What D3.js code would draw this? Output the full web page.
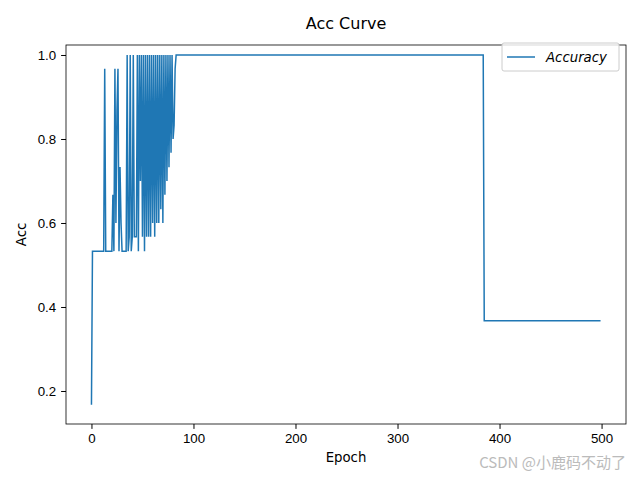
<!DOCTYPE html>
<html><head><meta charset="utf-8">
<script src="https://cdn.jsdelivr.net/npm/d3@7"></script>
<style>body{margin:0;background:#fff}</style>
</head><body><div id="chart"></div>
<script>
// first epochs, read one by one
const earlyAcc = [
  0.167, 0.533, 0.533, 0.533, 0.533, 0.533, 0.533, 0.533, 0.533, 0.533,
  0.533, 0.533, 0.533, 0.967, 0.533, 0.533, 0.533, 0.533, 0.533, 0.533,
  0.533, 0.667, 0.533, 0.967, 0.6, 0.867, 0.967, 0.533, 0.733, 0.6,
  0.533, 0.533, 0.533, 0.533, 0.533, 1.0, 0.533, 0.567, 1.0, 0.533,
  0.567, 1.0, 0.567, 0.567, 0.567, 1.0, 0.533, 1.0, 0.7, 1.0,
  0.567, 1.0, 0.533, 1.0, 0.567, 1.0, 0.567, 1.0, 0.567, 1.0,
  0.6, 1.0, 0.567, 1.0, 0.6, 1.0, 0.6, 1.0, 0.633, 1.0,
  0.6, 1.0, 0.667, 1.0, 0.7, 1.0, 0.733, 1.0, 0.767, 1.0,
  0.8, 0.833, 0.967, 1.0
];
// later epochs as [value, count] runs
const laterRuns = [[1.0, 301], [0.367, 115]];
const xTicks = [0, 100, 200, 300, 400, 500];
const yTicks = [0.2, 0.4, 0.6, 0.8, 1.0];

const acc = earlyAcc.slice();
laterRuns.forEach(([v, n]) => { for (let i = 0; i < n; i++) acc.push(v); });
const data = acc.map((v, i) => ({epoch: i, acc: v}));

const W = 640, H = 480;
const m = {left: 66, right: 14, top: 45, bottom: 56};
const svg = d3.select('#chart').append('svg').attr('width', W).attr('height', H)
  .style('font-family', 'DejaVu Sans');

const x = d3.scaleLinear().domain([-24.95, 523.95]).range([m.left, W - m.right]);
const y = d3.scaleLinear().domain([0.1214, 1.0238]).range([H - m.bottom, m.top]);

const line = d3.line().x(d => x(d.epoch)).y(d => y(d.acc));
svg.append('path').datum(data).attr('d', line)
  .attr('fill', 'none').attr('stroke', '#1f77b4').attr('stroke-width', 1.5);

const xa = svg.append('g').attr('transform', `translate(0,${H - m.bottom})`)
  .call(d3.axisBottom(x).tickValues(xTicks).tickSize(4.9).tickPadding(4.9));
const ya = svg.append('g').attr('transform', `translate(${m.left},0)`)
  .call(d3.axisLeft(y).tickValues(yTicks).tickFormat(d3.format('.1f')).tickSize(4.9).tickPadding(4.9));
[xa, ya].forEach(g => { g.select('.domain').remove(); g.selectAll('text').attr('font-size', 13.3).attr('fill', '#000'); g.selectAll('line').attr('stroke', '#000'); });

svg.append('rect').attr('x', m.left).attr('y', m.top)
  .attr('width', W - m.left - m.right).attr('height', H - m.top - m.bottom)
  .attr('fill', 'none').attr('stroke', '#000').attr('stroke-width', 0.8);

svg.append('text').attr('x', (m.left + W - m.right) / 2).attr('y', m.top - 16)
  .attr('text-anchor', 'middle').attr('font-size', 16).text('Acc Curve');
svg.append('text').attr('x', (m.left + W - m.right) / 2).attr('y', H - 18)
  .attr('text-anchor', 'middle').attr('font-size', 13.3).text('Epoch');
svg.append('text').attr('transform', `translate(26,${(m.top + H - m.bottom) / 2}) rotate(-90)`)
  .attr('text-anchor', 'middle').attr('font-size', 13.3).text('Acc');

const lg = svg.append('g').attr('transform', `translate(502,43)`);
lg.append('rect').attr('width', 117).attr('height', 28).attr('rx', 2)
  .attr('fill', '#fff').attr('fill-opacity', 0.8).attr('stroke', '#ccc');
lg.append('line').attr('x1', 5).attr('x2', 33).attr('y1', 14).attr('y2', 14)
  .attr('stroke', '#1f77b4').attr('stroke-width', 1.5);
lg.append('text').attr('x', 44).attr('y', 19).attr('font-size', 13.3).attr('font-style', 'italic').text('Accuracy');

svg.append('text').attr('x', 626).attr('y', 468).attr('text-anchor', 'end')
  .attr('font-size', 15).attr('fill', '#bbb')
  .style('font-family', 'Noto Sans CJK SC').text('CSDN @小鹿码不动了');
</script></body></html>
